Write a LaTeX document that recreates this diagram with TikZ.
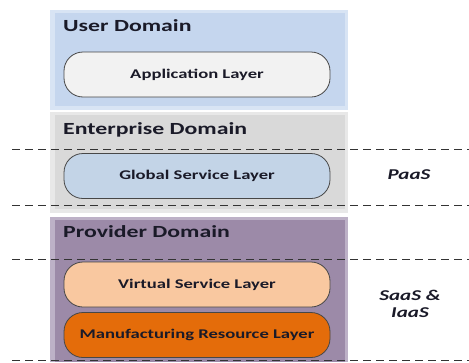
\documentclass[tikz,border=0pt]{standalone}
\usepackage{fontspec}
\setmainfont{Carlito}[FakeStretch=1.4]
\definecolor{userMain}{HTML}{C5D6EE}
\definecolor{userLight}{HTML}{D8E4F4}
\definecolor{entMain}{HTML}{D9D9D9}
\definecolor{entLight}{HTML}{E8E8E8}
\definecolor{provMain}{HTML}{9C8AA8}
\definecolor{provLight}{HTML}{BDB1C7}
\definecolor{appFill}{HTML}{F2F2F2}
\definecolor{globalFill}{HTML}{C3D4E7}
\definecolor{virtFill}{HTML}{F9C8A0}
\definecolor{mfgFill}{HTML}{E46C0A}
\definecolor{inkDark}{HTML}{1A1A28}
\tikzset{
  head/.style={anchor=base west, inner sep=0pt, text=inkDark, font=\bfseries\fontsize{17}{20}\selectfont},
  layerbox/.style={draw=black!72, line width=0.8pt, rounded corners=19pt,
    minimum width=266pt, minimum height=45pt, text=inkDark,
    font=\bfseries\fontsize{13.3}{16}\selectfont},
  service/.style={text=inkDark, align=center,
    font=\bfseries\itshape\fontsize{15}{17}\selectfont},
  split/.style={line width=0.8pt, draw=black!80, dash pattern=on 8pt off 5pt}
}
\begin{document}
\begin{tikzpicture}[x=1pt,y=-1pt]
\useasboundingbox (0,0) rectangle (469,362);

% domain panels: a pale halo behind each coloured panel
\fill[userLight] (50,10) rectangle (348,110);
\fill[userMain] (55,13) rectangle (345,106);
\fill[entLight] (50,112) rectangle (348,213);
\fill[entMain] (55,115) rectangle (345,209);
\fill[provLight] (50,217) rectangle (348,362);
\fill[provMain] (55,220) rectangle (345,362);

% domain titles
\node[head] (userT) at (63,31.5) {User Domain};
\node[head] (entT) at (63,134) {Enterprise Domain};
\node[head] (provT) at (63,237) {Provider Domain};

% layers
\node[layerbox, fill=appFill] (app) at (197,74.5) {Application Layer};
\node[layerbox, fill=globalFill] (global) at (197,176) {Global Service Layer};
\node[layerbox, fill=virtFill] (virt) at (197,284.5) {Virtual Service Layer};
\node[layerbox, fill=mfgFill] (mfg) at (197,335) {Manufacturing Resource Layer};

% service model boundaries
\draw[split] (12,149) -- (469,149);
\draw[split] (12,205) -- (469,205);
\draw[split] (12,259) -- (469,259);
\draw[split] (12,360.5) -- (469,360.5);

% service model labels
\node[service] (paas) at (409,175) {PaaS};
\node[service] (saas) at (410,303.5) {SaaS \&\\IaaS};
\end{tikzpicture}
\end{document}
